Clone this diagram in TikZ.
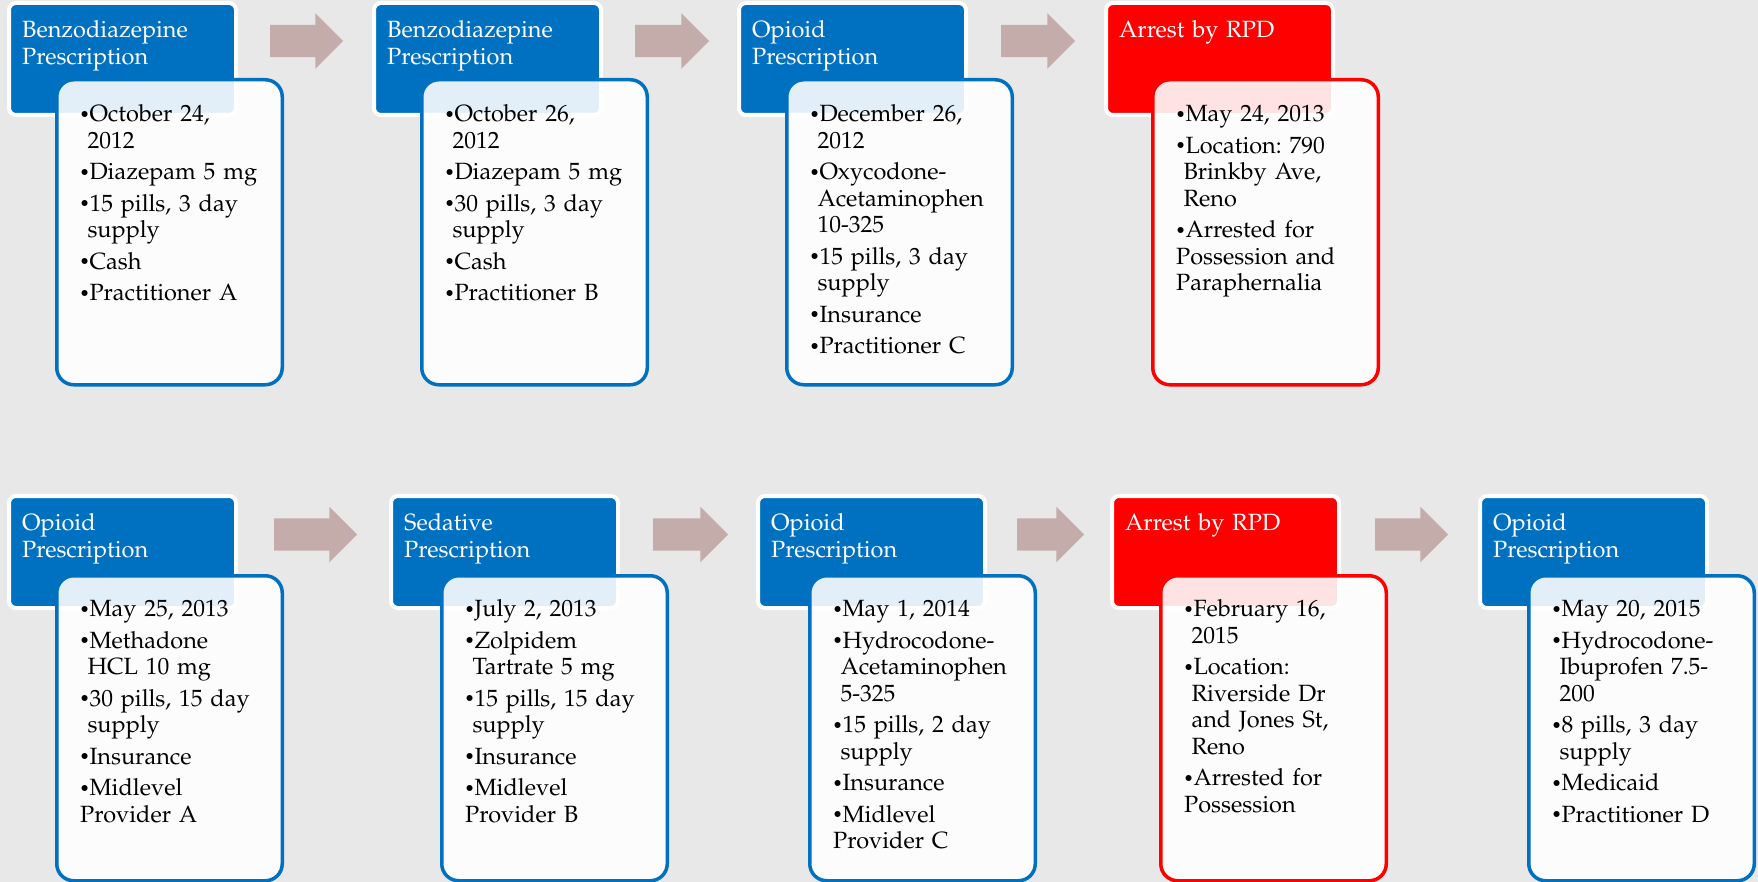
\documentclass[tikz,border=0pt]{standalone}
\usepackage[T1]{fontenc}
\usepackage{mathpazo}
\usepackage{tikz}
\usetikzlibrary{positioning,calc,shapes.arrows}

\definecolor{rxBlue}{RGB}{0,112,192}
\definecolor{arrestRed}{RGB}{255,0,0}
\definecolor{arrowTan}{RGB}{196,172,170}
\definecolor{slideGray}{RGB}{232,232,232}

\newcommand{\rxdot}{\makebox[9.3pt][l]{\hspace{-0.8pt}\raisebox{1.8pt}{\fontsize{17.5}{17.5}\selectfont\textbullet}}}
\newcommand{\rxitem}[1]{\par\parskip=5pt\hangindent=7.3pt\hangafter=1\noindent\strut\rxdot#1}

\tikzset{
  headbox/.style={rectangle, rounded corners=7pt, draw=white, line width=4pt,
    minimum width=227pt, minimum height=112pt, anchor=north west, inner sep=0pt, outer sep=0pt},
  rxhead/.style={headbox, fill=rxBlue},
  arresthead/.style={headbox, fill=arrestRed},
  infobox/.style={rectangle, rounded corners=17pt, line width=3.5pt, fill=white, fill opacity=0.89,
    minimum width=225.5pt, minimum height=305pt, anchor=north west, inner sep=0pt, outer sep=0pt},
  rxinfo/.style={infobox, draw=rxBlue},
  arrestinfo/.style={infobox, draw=arrestRed},
  headtext/.style={anchor=north west, inner sep=0pt, text width=205pt, align=left, text=white,
    font=\fontsize{23.5}{26.7}\selectfont},
  itemtext/.style={anchor=north west, inner sep=0pt, text width=205pt, align=left,
    font=\fontsize{23.5}{26.5}\selectfont\frenchspacing},
  stepArrow/.style={shape=single arrow, single arrow head extend=11.5pt, minimum width=55pt,
    inner xsep=0pt, inner ysep=16pt, fill=arrowTan}
}

\begin{document}
\begin{tikzpicture}[x=1pt,y=-1pt]
    \useasboundingbox (0,0) rectangle (1758,882);
    \fill[slideGray] (0,0) rectangle (1758,882);

    \node[rxhead] (h1) at (9,3) {};
    \node[rxhead] (h2) at (374,3) {};
    \node[rxhead] (h3) at (739,3) {};
    \node[arresthead] (h4) at (1106,3) {};
    \node[rxhead] (h5) at (9,496) {};
    \node[rxhead] (h6) at (391,496) {};
    \node[rxhead] (h7) at (758,496) {};
    \node[arresthead] (h8) at (1112,496) {};
    \node[rxhead] (h9) at (1480,496) {};

    \node[headtext] (ht1) at ($(h1.north west)+(13,15.5)$) {\strut Benzodiazepine\\Prescription};
    \node[headtext] (ht2) at ($(h2.north west)+(13,15.5)$) {\strut Benzodiazepine\\Prescription};
    \node[headtext] (ht3) at ($(h3.north west)+(13,15.5)$) {\strut Opioid\\Prescription};
    \node[headtext] (ht4) at ($(h4.north west)+(13,15.5)$) {\strut Arrest by RPD};
    \node[headtext] (ht5) at ($(h5.north west)+(13,15.5)$) {\strut Opioid\\Prescription};
    \node[headtext] (ht6) at ($(h6.north west)+(13,15.5)$) {\strut Sedative\\Prescription};
    \node[headtext] (ht7) at ($(h7.north west)+(13,15.5)$) {\strut Opioid\\Prescription};
    \node[headtext] (ht8) at ($(h8.north west)+(13,15.5)$) {\strut Arrest by RPD};
    \node[headtext] (ht9) at ($(h9.north west)+(13,15.5)$) {\strut Opioid\\Prescription};

    \node[rxinfo] (b1) at (56.75,79.75) {};
    \node[rxinfo] (b2) at (421.75,79.75) {};
    \node[rxinfo] (b3) at (786.75,79.75) {};
    \node[arrestinfo] (b4) at (1152.75,79.75) {};
    \node[rxinfo] (b5) at (56.75,575.75) {};
    \node[rxinfo] (b6) at (441.75,575.75) {};
    \node[rxinfo] (b7) at (809.75,575.75) {};
    \node[arrestinfo] (b8) at (1160.75,575.75) {};
    \node[rxinfo] (b9) at (1528.75,575.75) {};

    \node[itemtext] (t1) at ($(b1.north west)+(23.25,10.5)$) {%
      \rxitem{October 24,\newline 2012}\rxitem{Diazepam 5 mg}\rxitem{15 pills, 3 day\newline supply}%
      \rxitem{Cash}\rxitem{Practitioner A}};
    \node[itemtext] (t2) at ($(b2.north west)+(23.25,10.5)$) {%
      \rxitem{October 26,\newline 2012}\rxitem{Diazepam 5 mg}\rxitem{30 pills, 3 day\newline supply}%
      \rxitem{Cash}\rxitem{Practitioner B}};
    \node[itemtext] (t3) at ($(b3.north west)+(23.25,10.5)$) {%
      \rxitem{December 26,\newline 2012}\rxitem{Oxycodone-\newline Acetaminophen\newline 10-325}%
      \rxitem{15 pills, 3 day\newline supply}\rxitem{Insurance}\rxitem{Practitioner C}};
    \node[itemtext] (t4) at ($(b4.north west)+(23.25,10.5)$) {%
      \rxitem{May 24, 2013}\rxitem{Location: 790\newline Brinkby Ave,\newline Reno}%
      \rxitem{Arrested for\newline Possession and\newline Paraphernalia}};
    \node[itemtext] (t5) at ($(b5.north west)+(23.25,9.5)$) {%
      \rxitem{May 25, 2013}\rxitem{Methadone\newline HCL 10 mg}\rxitem{30 pills, 15 day\newline supply}%
      \rxitem{Insurance}\rxitem{Midlevel\newline Provider A}};
    \node[itemtext] (t6) at ($(b6.north west)+(23.25,9.5)$) {%
      \rxitem{July 2, 2013}\rxitem{Zolpidem\newline Tartrate 5 mg}\rxitem{15 pills, 15 day\newline supply}%
      \rxitem{Insurance}\rxitem{Midlevel\newline Provider B}};
    \node[itemtext] (t7) at ($(b7.north west)+(23.25,9.5)$) {%
      \rxitem{May 1, 2014}\rxitem{Hydrocodone-\newline Acetaminophen\newline 5-325}%
      \rxitem{15 pills, 2 day\newline supply}\rxitem{Insurance}\rxitem{Midlevel\newline Provider C}};
    \node[itemtext] (t8) at ($(b8.north west)+(23.25,9.5)$) {%
      \rxitem{February 16,\newline 2015}\rxitem{Location:\newline Riverside Dr\newline and Jones St,\newline Reno}%
      \rxitem{Arrested for\newline Possession}};
    \node[itemtext] (t9) at ($(b9.north west)+(23.25,9.5)$) {%
      \rxitem{May 20, 2015}\rxitem{Hydrocodone-\newline Ibuprofen 7.5-\newline 200}%
      \rxitem{8 pills, 3 day\newline supply}\rxitem{Medicaid}\rxitem{Practitioner D}};

    \foreach \n/\cx/\cy/\len in {1/298.5/41/73, 2/664/41/74, 3/1030/41/74,
        4/307.5/534.5/83, 5/682.5/534.5/75, 6/1042.5/534.5/67, 7/1403.5/534.5/73}
      \node[stepArrow, minimum height=\len pt] (arr\n) at (\cx,\cy) {};
\end{tikzpicture}
\end{document}
